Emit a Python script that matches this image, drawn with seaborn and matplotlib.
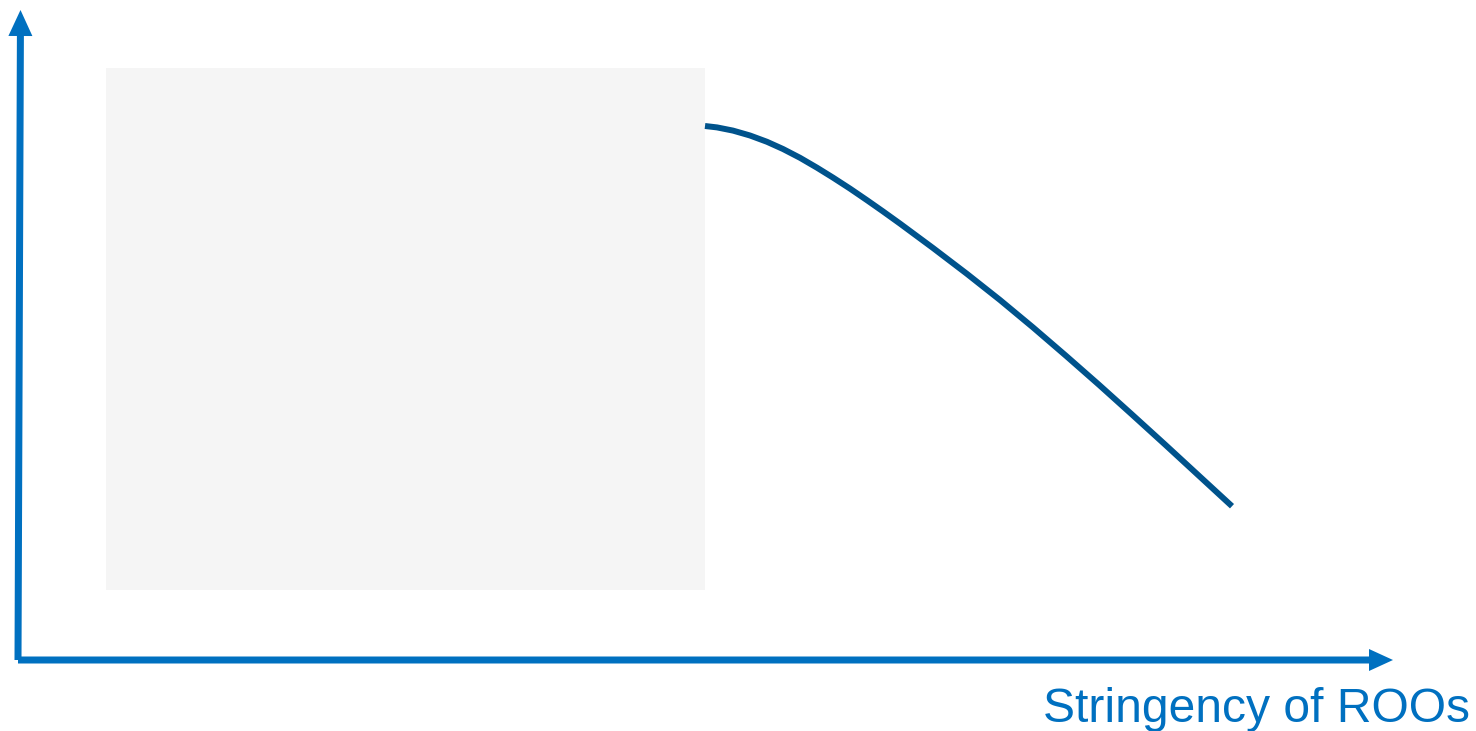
import numpy as np
import pandas as pd
import matplotlib
matplotlib.use("Agg")
import matplotlib.pyplot as plt
import seaborn as sns

# ==============================
# DATA (x = stringency, y = level; origin at axes corner)
# ==============================
stringency = [687, 699, 715, 732, 749, 765, 782, 799, 815, 832, 849, 865, 882,
              915, 949, 982, 1015, 1048, 1081, 1114, 1147, 1180, 1214]
level = [534, 532.6, 529.4, 524.5, 518.2, 511.0, 502.2, 492.3, 482.4, 471.4,
         459.8, 448.6, 436.4, 412.0, 386.1, 360.0, 332.6, 304.2, 275.2, 245.5,
         215.5, 185.1, 153.8]

shade_x = [88, 687]
shade_y = [70, 592]

x_label = "Stringency of ROOs"

axis_color = "#0070C0"
curve_color = "#00538C"

# ==============================
# FIGURE
# ==============================
sns.set_style("white")
plt.rcParams["font.family"] = ["Liberation Sans", "DejaVu Sans"]

fig = plt.figure(figsize=(14.76, 7.31), dpi=100)
ax = fig.add_axes([0, 0, 1, 1])
ax.set_xlim(-18, 1458)
ax.set_ylim(-71, 660)
ax.axis("off")

# shaded box
ax.fill_between(shade_x, shade_y[0], shade_y[1], color="#F5F5F5", lw=0, zorder=1)

# curve
df = pd.DataFrame({"stringency": stringency, "level": level})
sns.lineplot(data=df, x="stringency", y="level", ax=ax, color=curve_color,
             lw=4.3, sort=False, zorder=3)
ax.lines[-1].set_solid_capstyle("butt")
ax.lines[-1].set_solid_joinstyle("round")

# axes arrows
ax.arrow(0, 0, 2.5, 650, width=7, head_width=24, head_length=26,
         length_includes_head=True, color=axis_color, lw=0, zorder=4)
ax.arrow(0, 0, 1375, 0, width=7, head_width=22, head_length=24,
         length_includes_head=True, color=axis_color, lw=0, zorder=4)

ax.text(1452, -62, x_label, ha="right", va="baseline", fontsize=34.6,
        color=axis_color)

fig.savefig("out.png", dpi=100)
